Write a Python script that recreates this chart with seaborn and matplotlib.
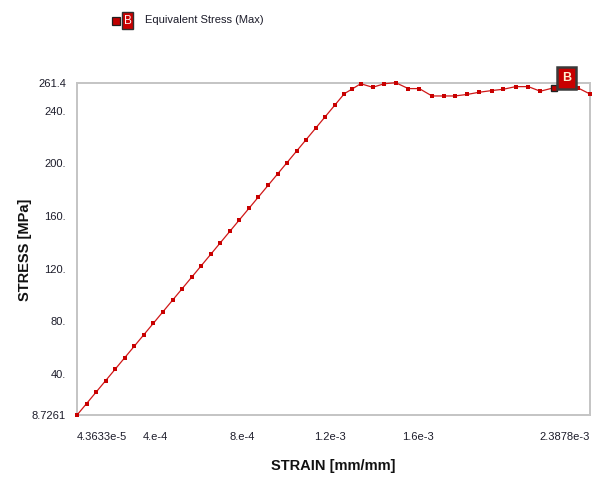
import matplotlib
matplotlib.use("Agg")

import matplotlib.pyplot as plt
import seaborn as sns
from matplotlib.patches import Rectangle


# strain [mm/mm] and equivalent stress [MPa]
strain = [
    4.3633e-5, 8.7266e-5, 1.30899e-4, 1.74532e-4, 2.18165e-4,
    2.61798e-4, 3.05431e-4, 3.49064e-4, 3.92697e-4, 4.36330e-4,
    4.79963e-4, 5.23596e-4, 5.67229e-4, 6.10862e-4, 6.54495e-4,
    6.98128e-4, 7.41761e-4, 7.85394e-4, 8.29027e-4, 8.72660e-4,
    9.16293e-4, 9.59926e-4, 1.003559e-3, 1.047192e-3, 1.090825e-3,
    1.134458e-3, 1.178091e-3, 1.221724e-3, 1.265357e-3,
    1.2989e-3, 1.3400e-3, 1.3949e-3, 1.4479e-3, 1.5000e-3,
    1.5575e-3, 1.6078e-3, 1.6658e-3, 1.7193e-3, 1.7709e-3,
    1.8280e-3, 1.8806e-3, 1.9387e-3, 1.9917e-3, 2.0483e-3,
    2.1059e-3, 2.1607e-3, 2.2247e-3, 2.2781e-3, 2.3330e-3,
    2.3878e-3,
]

stress = [
    8.7261, 17.452, 26.178, 34.904, 43.631,
    52.357, 61.083, 69.809, 78.535, 87.261,
    95.987, 104.71, 113.44, 122.17, 130.89,
    139.62, 148.34, 157.07, 165.80, 174.52,
    183.25, 191.97, 200.70, 209.43, 218.15,
    226.88, 235.60, 244.33, 253.06,
    256.4, 260.6, 257.9, 260.6, 261.4,
    256.9, 256.9, 251.3, 251.3, 251.3,
    252.5, 254.1, 255.4, 256.4, 258.4,
    258.4, 254.9, 257.6, 258.9, 257.4,
    252.8,
]

probe_index = 46

x_ticks = [4.3633e-5, 4e-4, 8e-4, 1.2e-3, 1.6e-3, 2.3878e-3]
x_tick_labels = ["4.3633e-5", "4.e-4", "8.e-4", "1.2e-3", "1.6e-3", "2.3878e-3"]

y_ticks = [8.7261, 40, 80, 120, 160, 200, 240, 261.4]
y_tick_labels = ["8.7261", "40.", "80.", "120.", "160.", "200.", "240.", "261.4"]

legend_label = "Equivalent Stress (Max)"


sns.set_style("white")
plt.rcParams["font.family"] = ["Liberation Sans", "DejaVu Sans"]

fig = plt.figure(figsize=(6.02, 4.79), dpi=100)
ax = fig.add_axes([0.128, 0.1336, 0.852, 0.6938])

line_red = "#d01818"

sns.lineplot(
    x=strain,
    y=stress,
    ax=ax,
    color=line_red,
    linewidth=0.9,
    marker="s",
    markersize=3.4,
    markeredgewidth=0,
    markerfacecolor="#c80000",
    estimator=None,
    sort=False,
    clip_on=False,
    zorder=4,
)

# probe marker with the "B" label
ax.plot(
    [strain[probe_index]],
    [stress[probe_index]],
    marker="s",
    markersize=4.8,
    markerfacecolor="#c00000",
    markeredgecolor="#202020",
    markeredgewidth=1.0,
    linestyle="none",
    zorder=5,
    clip_on=False,
)

ax.annotate(
    "B",
    xy=(strain[probe_index], stress[probe_index]),
    xytext=(8, 4),
    textcoords="offset pixels",
    ha="left",
    va="bottom",
    color="#fff0d0",
    fontsize=9,
    fontweight="bold",
    zorder=6,
    annotation_clip=False,
    bbox=dict(
        boxstyle="square,pad=0.4",
        facecolor="#c80000",
        edgecolor="#3a3a3a",
        linewidth=1.8,
    ),
)

ax.set_xlim(x_ticks[0], x_ticks[-1])
ax.set_ylim(y_ticks[0], y_ticks[-1])

ax.set_xticks(x_ticks)
ax.set_xticklabels(x_tick_labels)
ax.set_yticks(y_ticks)
ax.set_yticklabels(y_tick_labels)

x_labels = ax.get_xticklabels()
x_labels[0].set_ha("left")
x_labels[-1].set_ha("right")

for spine in ax.spines.values():
    spine.set_visible(True)
    spine.set_color("#c4c4c4")
    spine.set_linewidth(1.4)
    spine.set_zorder(1)

ax.tick_params(
    axis="both",
    direction="out",
    length=5,
    width=1.3,
    color="#c4c4c4",
    labelsize=8,
    labelcolor="#1c1c2a",
    pad=3,
)
ax.tick_params(axis="x", length=6, pad=6)

ax.grid(False)

ax.set_xlabel("STRAIN [mm/mm]", fontsize=10.5, fontweight="bold", color="#111111")
ax.set_ylabel("STRESS [MPa]", fontsize=10.5, fontweight="bold", color="#111111")
ax.xaxis.set_label_coords(0.499, -0.132)
ax.yaxis.set_label_coords(-0.087, 0.497)

# legend at the top
W, H = 602, 479

fig.patches.append(
    Rectangle(
        (112 / W, 1 - 25 / H),
        8 / W,
        8 / H,
        transform=fig.transFigure,
        facecolor="#c00000",
        edgecolor="#202020",
        linewidth=0.9,
    )
)

fig.patches.append(
    Rectangle(
        (122 / W, 1 - 29 / H),
        11 / W,
        17 / H,
        transform=fig.transFigure,
        facecolor="#c80000",
        edgecolor="#303030",
        linewidth=1.0,
    )
)

fig.text(
    127.5 / W,
    1 - 20.5 / H,
    "B",
    ha="center",
    va="center",
    color="#fff0f0",
    fontsize=8.5,
)

fig.text(
    145 / W,
    1 - 20 / H,
    legend_label,
    ha="left",
    va="center",
    color="#1c1c2a",
    fontsize=8,
)

fig.savefig("out.png", dpi=100)
plt.close(fig)
